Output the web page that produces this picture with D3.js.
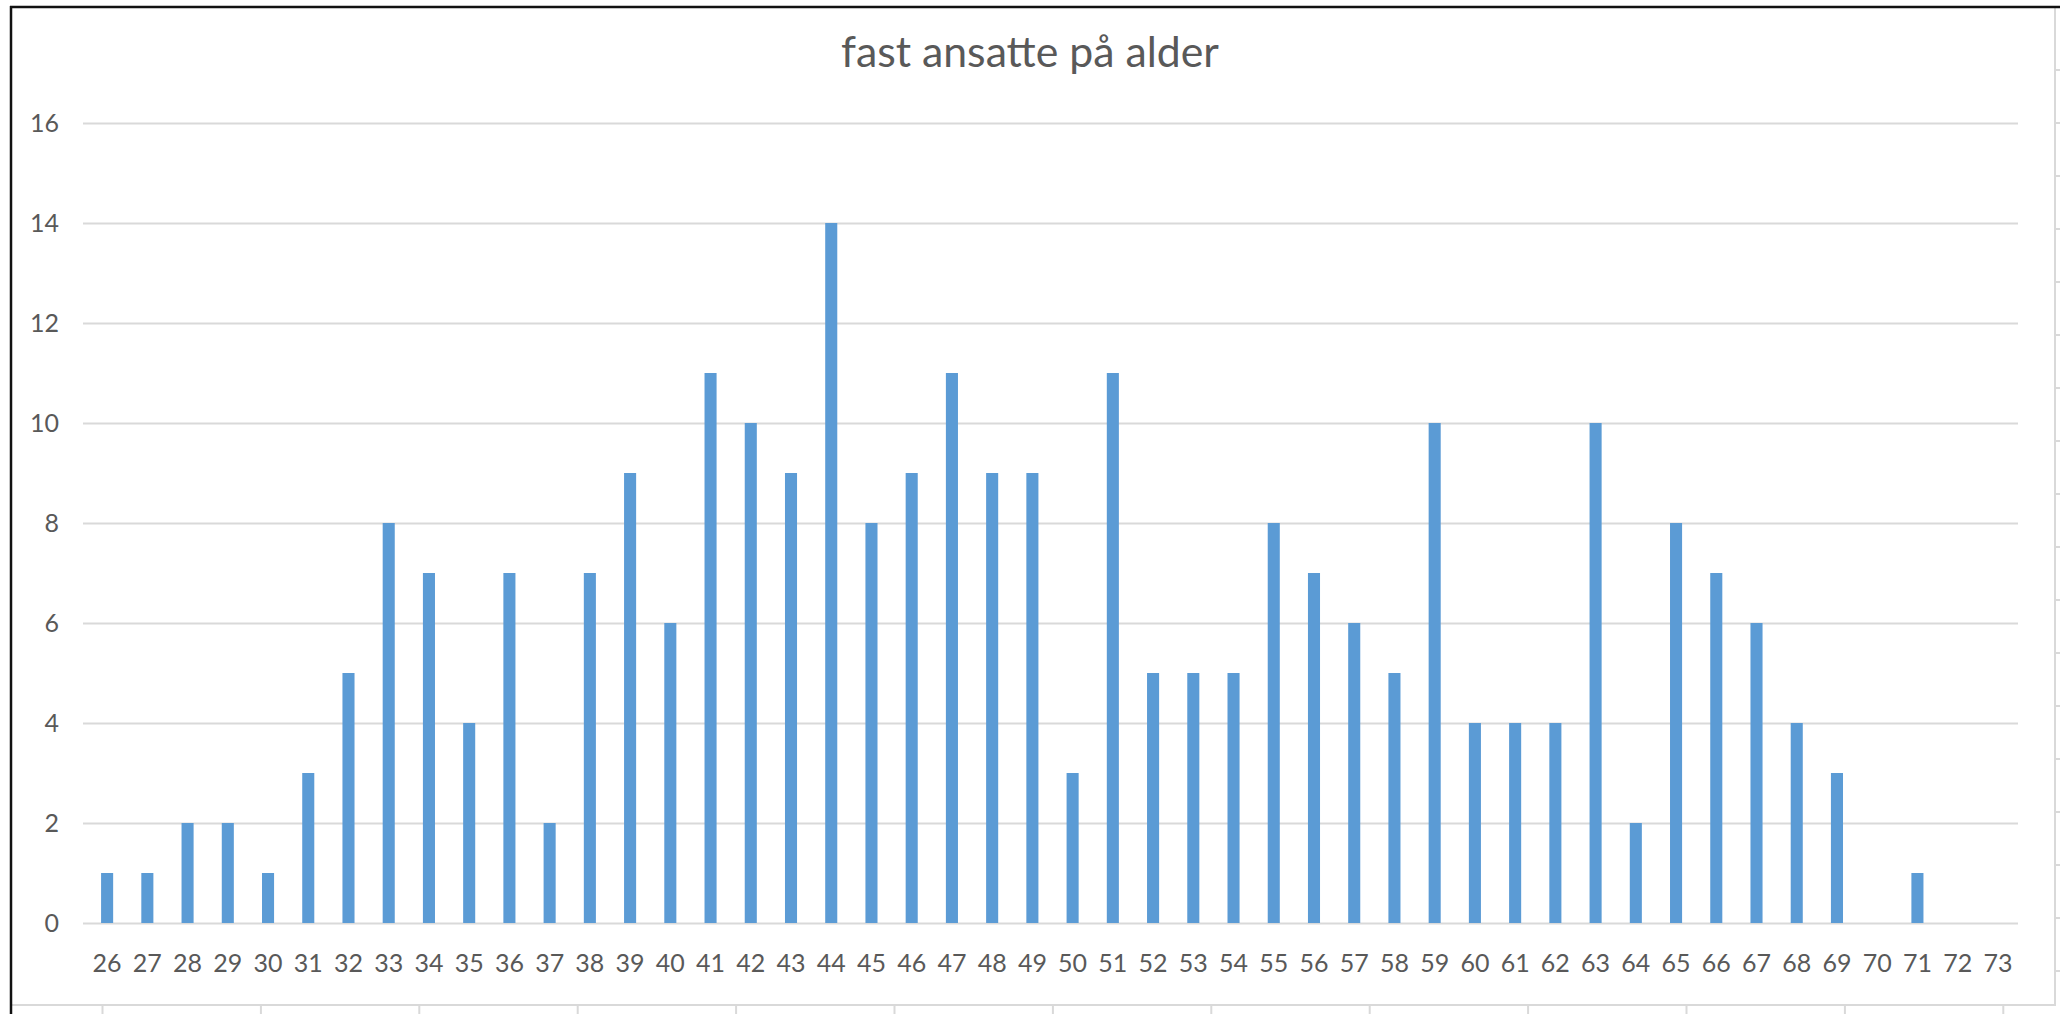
<!DOCTYPE html>
<html>
<head>
<meta charset="utf-8">
<script src="https://cdn.jsdelivr.net/npm/d3@7"></script>
<style>
  html, body { margin: 0; padding: 0; background: #ffffff; }
  svg { display: block; }
  text { font-family: Lato, "Open Sans", sans-serif; }
</style>
</head>
<body>
<script>
// ---- data ----
const title = "fast ansatte på alder";
const ages = [26,27,28,29,30,31,32,33,34,35,36,37,38,39,40,41,42,43,44,45,46,47,48,49,
              50,51,52,53,54,55,56,57,58,59,60,61,62,63,64,65,66,67,68,69,70,71,72,73];
const counts = [1,1,2,2,1,3,5,8,7,4,7,2,7,9,6,11,10,9,14,8,9,11,9,9,
                3,11,5,5,5,8,7,6,5,10,4,4,4,10,2,8,7,6,4,3,0,1,0,0];
const yTicks = [0,2,4,6,8,10,12,14,16];

// ---- layout ----
const W = 2060, H = 1014;
const plot = { left: 87, right: 2018, top: 123, bottom: 923 };
const textColor = "#595959";
const gridColor = "#d9d9d9";
const barColor = "#5b9bd5";

const svg = d3.select("body").append("svg")
  .attr("width", W).attr("height", H);

svg.append("rect").attr("width", W).attr("height", H).attr("fill", "#ffffff");

const x = d3.scaleBand()
  .domain(ages.map(String))
  .range([plot.left, plot.right])
  .paddingInner(0.7)
  .paddingOuter(0.35);

const y = d3.scaleLinear()
  .domain([0, 16])
  .range([plot.bottom, plot.top]);

// gridlines + y labels
const yAxis = d3.axisLeft(y)
  .tickValues(yTicks)
  .tickFormat(d3.format("d"))
  .tickSize(-(plot.right - (plot.left - 4)))
  .tickPadding(24);

const gy = svg.append("g")
  .attr("transform", `translate(${plot.left - 4},0)`)
  .call(yAxis);
gy.select(".domain").remove();
gy.selectAll(".tick line")
  .attr("stroke", gridColor)
  .attr("stroke-width", 2);
gy.selectAll(".tick text")
  .attr("fill", textColor)
  .style("font-size", "25px");

// bars
svg.append("g").selectAll("rect")
  .data(ages.map((a, i) => ({ age: String(a), v: counts[i] })))
  .join("rect")
  .attr("x", d => x(d.age))
  .attr("width", x.bandwidth())
  .attr("y", d => y(d.v))
  .attr("height", d => y(0) - y(d.v))
  .attr("fill", barColor);

// x labels
const xAxis = d3.axisBottom(x).tickSize(0).tickPadding(0);
const gx = svg.append("g")
  .attr("transform", `translate(0,${plot.bottom})`)
  .call(xAxis);
gx.select(".domain").remove();
gx.selectAll(".tick text")
  .attr("y", 40)
  .attr("dy", "0.36em")
  .attr("fill", textColor)
  .style("font-size", "25px");

// title
const t = svg.append("text")
  .attr("x", 1030)
  .attr("y", 67)
  .attr("text-anchor", "middle")
  .attr("fill", textColor)
  .style("font-size", "43px")
  .text(title);
const tw = t.node().getComputedTextLength();
if (tw > 0) t.style("font-size", (43 * 378 / tw).toFixed(2) + "px");

// surrounding frame pieces (from screenshot)
const frame = svg.append("g");
// right gray edge with small ticks
frame.append("line")
  .attr("x1", 2055).attr("x2", 2055).attr("y1", 8).attr("y2", 1005)
  .attr("stroke", gridColor).attr("stroke-width", 2);
frame.selectAll("line.rt")
  .data(d3.range(70, 1000, 53))
  .join("line").attr("class", "rt")
  .attr("x1", 2055).attr("x2", 2060)
  .attr("y1", d => d).attr("y2", d => d)
  .attr("stroke", gridColor).attr("stroke-width", 2);
// bottom gray edge with ticks
frame.append("line")
  .attr("x1", 11).attr("x2", 2056).attr("y1", 1005).attr("y2", 1005)
  .attr("stroke", gridColor).attr("stroke-width", 2);
frame.selectAll("line.bt")
  .data(d3.range(0, 13).map(k => 102.5 + k * 158.4))
  .join("line").attr("class", "bt")
  .attr("x1", d => d).attr("x2", d => d)
  .attr("y1", 1006).attr("y2", 1014)
  .attr("stroke", gridColor).attr("stroke-width", 2);
// black top and left border
frame.append("line")
  .attr("x1", 10).attr("x2", W).attr("y1", 7).attr("y2", 7)
  .attr("stroke", "#111").attr("stroke-width", 2.5);
frame.append("line")
  .attr("x1", 11).attr("x2", 11).attr("y1", 6).attr("y2", H)
  .attr("stroke", "#111").attr("stroke-width", 2.5);
</script>
</body>
</html>
